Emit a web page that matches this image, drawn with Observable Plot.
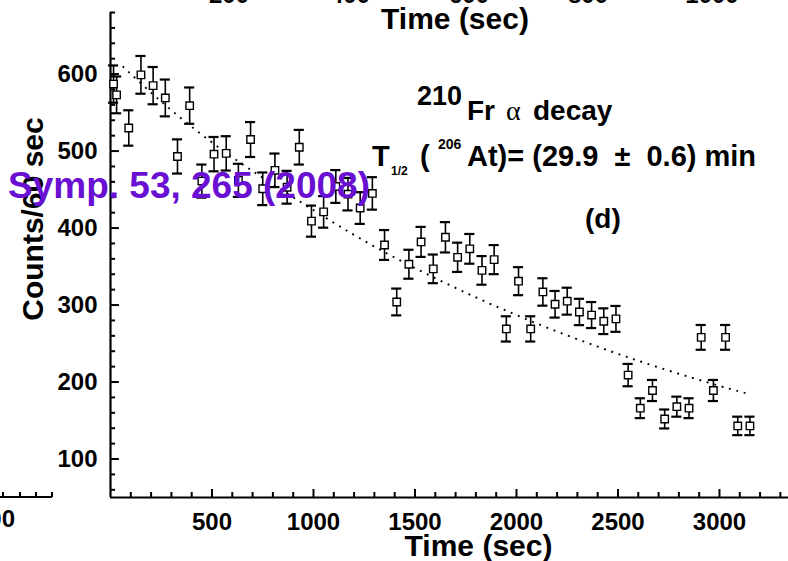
<!DOCTYPE html>
<html>
<head>
<meta charset="utf-8">
<script src="https://cdn.jsdelivr.net/npm/d3@7"></script>
<script src="https://cdn.jsdelivr.net/npm/@observablehq/plot@0.6"></script>
<style>
  html, body { margin: 0; padding: 0; background: #fff; }
  #chart svg { display: block; }
</style>
</head>
<body>
<div id="chart"></div>
<script>
// ---- data ----
const times = [15, 30, 90, 150, 210, 270, 330, 390, 450, 510, 570, 630, 690, 750, 810, 870, 930, 990,
  1050, 1110, 1170, 1230, 1290, 1350, 1410, 1470, 1530, 1590, 1650, 1710, 1770, 1830, 1890, 1950,
  2010, 2070, 2130, 2190, 2250, 2310, 2370, 2430, 2490, 2550, 2610, 2670, 2730, 2790, 2850, 2910,
  2970, 3030, 3090, 3150];
const counts = [587, 573, 530, 599, 585, 569, 493, 559, 461, 496, 497, 462, 515, 451, 475, 453, 505, 409,
  421, 454, 444, 426, 445, 378, 304, 353, 382, 347, 388, 362, 373, 345, 359, 269,
  331, 269, 317, 301, 305, 291, 287, 279, 282, 209, 166, 189, 152, 168, 166, 258,
  189, 258, 143, 143];
const errors = [24.2, 23.9, 23.0, 24.5, 24.2, 23.9, 22.2, 23.6, 21.5, 22.3, 22.3, 21.5, 22.7, 21.2, 21.8, 21.3, 22.5, 20.2,
  20.5, 21.3, 21.1, 20.6, 21.1, 19.4, 17.4, 18.8, 19.5, 18.6, 19.7, 19.0, 19.3, 18.6, 18.9, 16.4,
  18.2, 16.4, 17.8, 17.3, 17.5, 17.1, 16.9, 16.7, 16.8, 14.5, 12.9, 13.7, 12.3, 13.0, 12.9, 16.1,
  13.7, 16.1, 12.0, 12.0];
const fitTimes = [60, 300, 600, 900, 1200, 1500, 1800, 2100, 2400, 2700, 3000, 3150];
const fitCounts = [610, 553, 492, 440, 391, 348, 310, 276, 246, 219, 195, 184];

const xMajorTicks = [500, 1000, 1500, 2000, 2500, 3000];
const xMinorTicks = [100, 200, 300, 400, 600, 700, 800, 900, 1100, 1200, 1300, 1400, 1600, 1700, 1800, 1900,
  2100, 2200, 2300, 2400, 2600, 2700, 2800, 2900, 3100, 3200, 3300];
const yMajorTicks = [100, 200, 300, 400, 500, 600];
const yMinorTicks = [60, 80, 120, 140, 160, 180, 220, 240, 260, 280, 320, 340, 360, 380, 420, 440, 460, 480,
  520, 540, 560, 580, 620, 640, 660, 680];
const topPanelTicks = ["200", "400", "600", "800", "1000"];

// ---- build ----
const points = times.map((t, i) => ({t, c: counts[i], e: errors[i]}));
const fit = fitTimes.map((t, i) => ({t, c: fitCounts[i]}));

const FONT = "'Liberation Sans', Arial, Helvetica, sans-serif";
const capHalf = 25;      // sec, half width of error-bar caps
const xTickMaj = 10.4, xTickMin = 6.5;   // count units
const yTickMaj = 44, yTickMin = 25;      // sec units

const chart = Plot.plot({
  width: 788,
  height: 561,
  marginLeft: 110,
  marginRight: 0,
  marginTop: 12,
  marginBottom: 64,
  style: {fontFamily: FONT, background: "white", color: "black", overflow: "visible"},
  x: {domain: [0, 3340], axis: null},
  y: {domain: [50, 680], axis: null},
  marks: [
    // axes lines
    Plot.ruleY([50], {stroke: "black", strokeWidth: 2.2}),
    Plot.ruleX([0], {stroke: "black", strokeWidth: 2.2}),
    // inward ticks
    Plot.ruleX(xMajorTicks, {x: d => d, y1: 50, y2: 50 + xTickMaj, stroke: "black", strokeWidth: 2}),
    Plot.ruleX(xMinorTicks, {x: d => d, y1: 50, y2: 50 + xTickMin, stroke: "black", strokeWidth: 2}),
    Plot.ruleY(yMajorTicks, {y: d => d, x1: 0, x2: yTickMaj, stroke: "black", strokeWidth: 2}),
    Plot.ruleY(yMinorTicks, {y: d => d, x1: 0, x2: yTickMin, stroke: "black", strokeWidth: 2}),
    // tick labels
    Plot.text(xMajorTicks, {x: d => d, frameAnchor: "bottom", dy: 25, text: d => String(d),
      textAnchor: "middle", fontSize: 24, fontWeight: "bold", lineAnchor: "middle", fill: "black"}),
    Plot.text(yMajorTicks, {y: d => d, frameAnchor: "left", dx: -13, text: d => String(d),
      textAnchor: "end", fontSize: 24, fontWeight: "bold", lineAnchor: "middle", fill: "black"}),
    // axis titles
    Plot.text(["Time (sec)"], {frameAnchor: "bottom", dx: 29, dy: 49, fontSize: 30, textAnchor: "middle",
      fontWeight: "bold", lineAnchor: "middle", fill: "black"}),
    Plot.text(["Counts/60 sec"], {frameAnchor: "left", dx: -77, dy: -36, rotate: -90, fontSize: 30,
      textAnchor: "middle", fontWeight: "bold", lineAnchor: "middle", fill: "black"}),
    // fit curve
    Plot.line(fit, {x: "t", y: "c", curve: "natural", stroke: "black", strokeWidth: 1.9,
      strokeDasharray: "1.9 5.8", strokeLinecap: "butt"}),
    // error bars
    Plot.ruleX(points, {x: "t", y1: d => d.c - d.e, y2: d => d.c + d.e, stroke: "black", strokeWidth: 1.6}),
    Plot.ruleY(points, {y: d => d.c + d.e, x1: d => d.t - capHalf, x2: d => d.t + capHalf, stroke: "black", strokeWidth: 2.2}),
    Plot.ruleY(points, {y: d => d.c - d.e, x1: d => d.t - capHalf, x2: d => d.t + capHalf, stroke: "black", strokeWidth: 2.2}),
    // open squares
    Plot.dot(points, {x: "t", y: "c", symbol: "square", r: 4.2, fill: "white", stroke: "black", strokeWidth: 1.4})
  ]
});
document.getElementById("chart").appendChild(chart);

// ---- annotations and neighbouring-panel fragments ----
const svg = d3.select(chart);
const g = svg.append("g").attr("font-family", FONT).attr("font-weight", "bold")
  .attr("fill", "black").attr("text-anchor", "start");

function txt(x, y, s, size, opts = {}) {
  const t = g.append("text").attr("x", x).attr("y", y).attr("font-size", size)
    .attr("text-anchor", opts.anchor || "start")
    .style("white-space", "pre").text(s);
  if (opts.weight) t.attr("font-weight", opts.weight);
  if (opts.family) t.attr("font-family", opts.family);
  if (opts.fill) t.attr("fill", opts.fill);
  return t;
}

// top panel remnants
const topX = [229, 350, 469, 588, 712];
topPanelTicks.forEach((s, i) => txt(topX[i], 3, s, 24, {anchor: "middle"}));
txt(455, 29, "Time (sec)", 30, {anchor: "middle"});

// left panel remnants
g.append("line").attr("x1", 0).attr("x2", 52).attr("y1", 497).attr("y2", 497)
  .attr("stroke", "black").attr("stroke-width", 2);
[3, 20, 36, 52].forEach(x => g.append("line").attr("x1", x).attr("x2", x)
  .attr("y1", 497).attr("y2", 492).attr("stroke", "black").attr("stroke-width", 2));
txt(15, 527, "1000", 24, {anchor: "end"});

// 210Fr alpha decay
txt(417, 105, "210", 27);
txt(467, 120, "Fr", 28);
txt(506, 120, "\u03b1", 28, {weight: "normal", family: "'Liberation Serif', 'DejaVu Serif', serif"});
txt(533, 120, "decay", 28);

// T1/2 (206At) = (29.9 ± 0.6) min
txt(372, 166, "T", 29);
txt(391, 175, "1/2", 12);
txt(420, 166, "(", 29);
txt(438, 149, "206", 14);
txt(467, 166, "At)= (29.9  \u00b1  0.6) min", 29);

// (d)
txt(585, 228, "(d)", 28);

// purple citation overlay
txt(8, 198, "Symp. 53, 265 (2008)", 37, {fill: "#6a10d2"});
</script>
</body>
</html>
